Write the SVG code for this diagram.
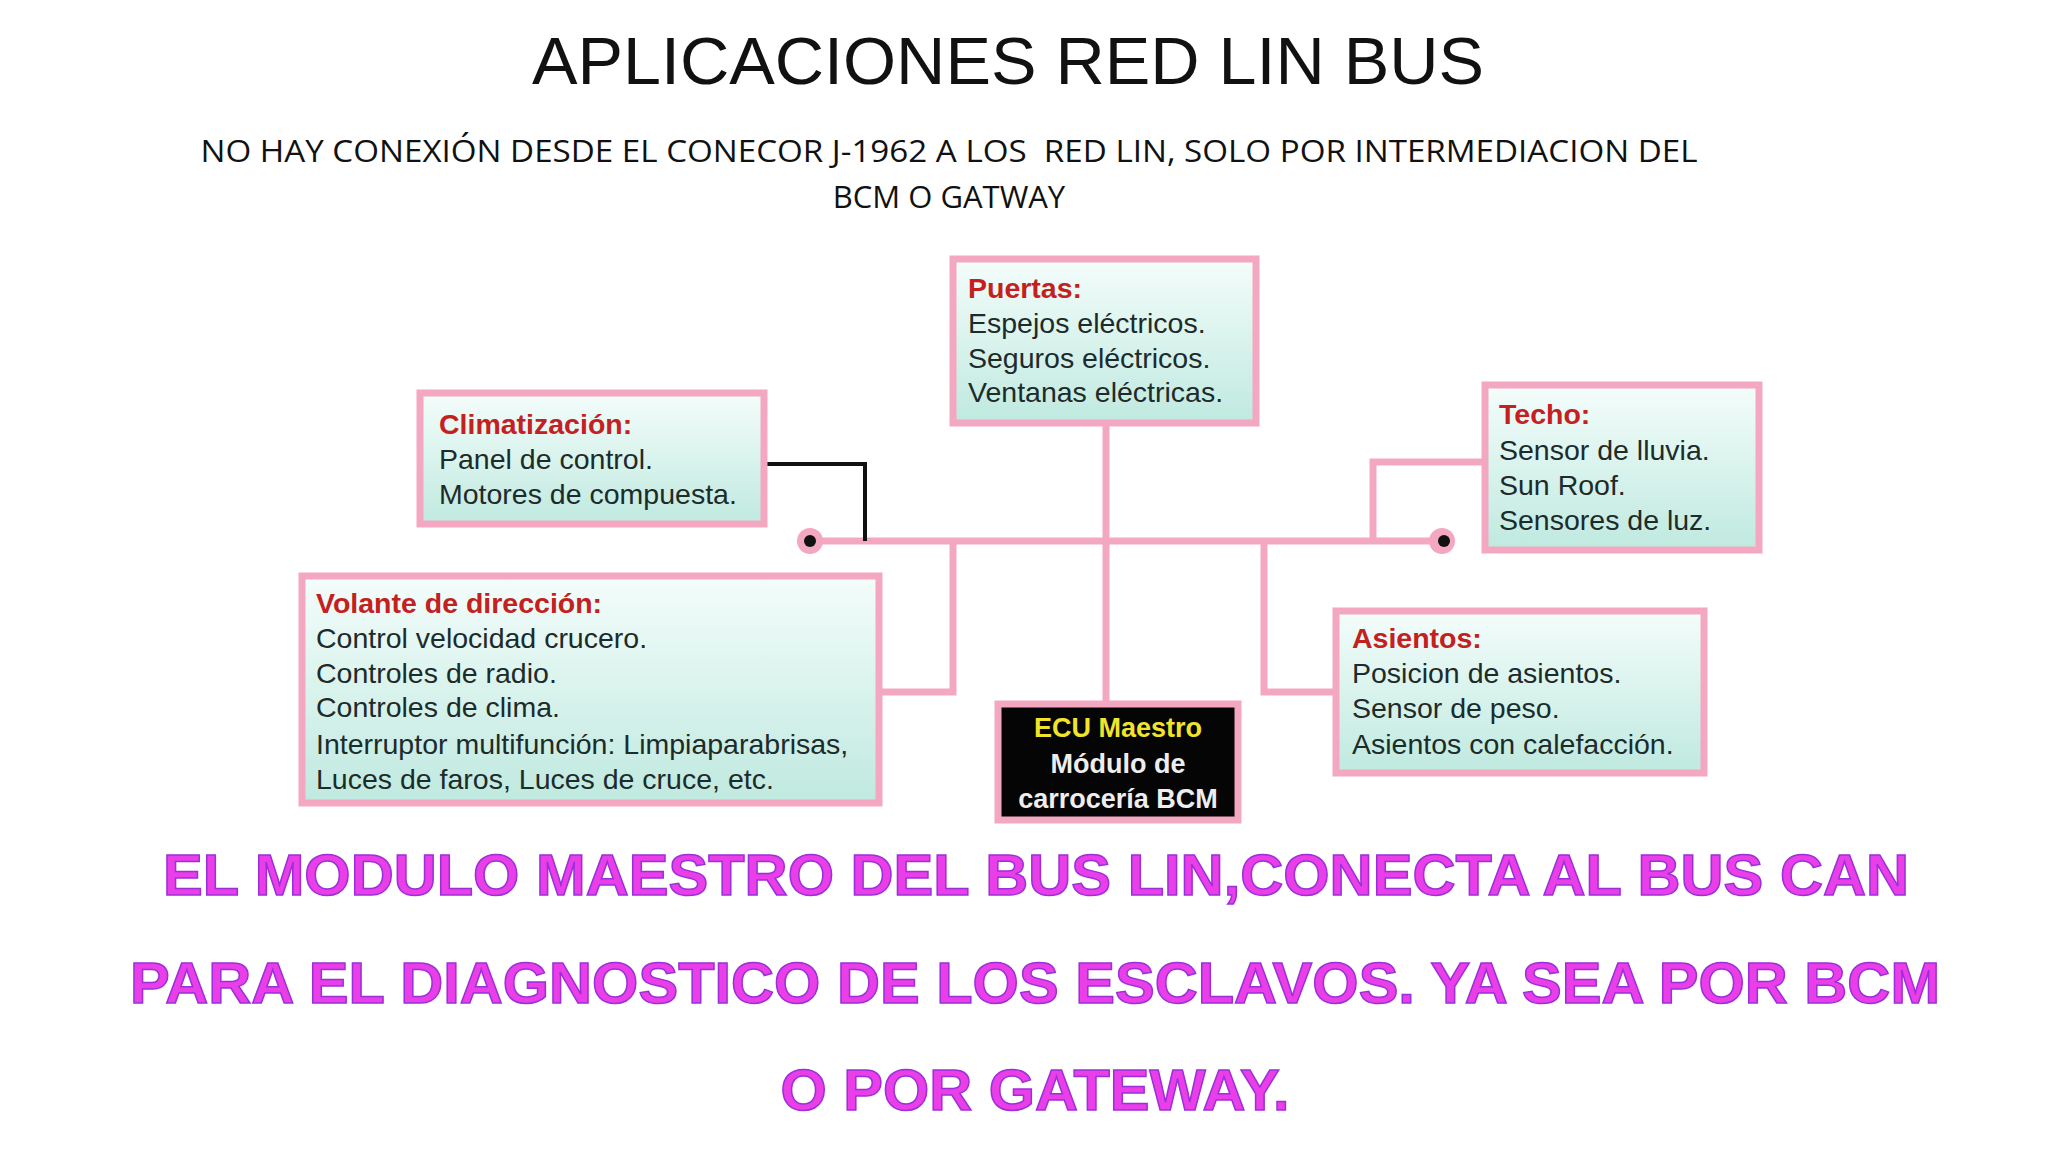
<svg xmlns="http://www.w3.org/2000/svg" width="2048" height="1152" viewBox="0 0 2048 1152">
<defs>
<linearGradient id="g" x1="0" y1="0" x2="0" y2="1"><stop offset="0" stop-color="#f4fdfb"/><stop offset="1" stop-color="#bfe9df"/></linearGradient>
<style>
.box{fill:url(#g);stroke:#f4a7c1;stroke-width:7}
.h{font-family:"Liberation Sans",Arial,sans-serif;font-size:28.5px;font-weight:bold;fill:#c42020}
.t{font-family:"Liberation Sans",Arial,sans-serif;font-size:28.5px;fill:#1d2b2b}
.w{stroke:#f4a7c1;stroke-width:7;fill:none}
.big{font-family:"Liberation Sans",Arial,sans-serif;font-size:58px;font-weight:bold;fill:#ea3ee8;stroke:#9b30d9;stroke-width:1.5;text-anchor:middle}
</style>
</defs>
<rect width="2048" height="1152" fill="#fff"/>
<text x="1008" y="84" font-family="Liberation Sans,Arial,sans-serif" font-size="66" text-anchor="middle" fill="#111" textLength="952" lengthAdjust="spacingAndGlyphs">APLICACIONES RED LIN BUS</text>
<g font-family="Open Sans,Liberation Sans,sans-serif" font-size="31" fill="#111" text-anchor="middle">
<text x="949" y="162" textLength="1497" lengthAdjust="spacingAndGlyphs" xml:space="preserve">NO HAY CONEXIÓN DESDE EL CONECOR J-1962 A LOS  RED LIN, SOLO POR INTERMEDIACION DEL</text>
<text x="949" y="208">BCM O GATWAY</text>
</g>
<g id="connectors">
<line class="w" x1="810" y1="541" x2="1442" y2="541"/>
<polyline points="764,464 865,464 865,541" fill="none" stroke="#111" stroke-width="4"/>
<line class="w" x1="1106" y1="423" x2="1106" y2="701"/>
<polyline class="w" points="879,692 953,692 953,541"/>
<polyline class="w" points="1336,692 1264,692 1264,541"/>
<polyline class="w" points="1485,462 1373,462 1373,541"/>
<circle cx="810" cy="541" r="13" fill="#f4a7c1"/><circle cx="810" cy="541" r="6" fill="#111"/>
<circle cx="1442" cy="541" r="13" fill="#f4a7c1"/><circle cx="1444" cy="541" r="6" fill="#111"/>
</g>
<g id="puertas"><rect class="box" x="953" y="259" width="303" height="164"/>
<text class="h" x="968" y="298">Puertas:</text><text class="t" x="968" y="333">Espejos eléctricos.</text><text class="t" x="968" y="368">Seguros eléctricos.</text><text class="t" x="968" y="402">Ventanas eléctricas.</text></g>
<g id="clima"><rect class="box" x="420" y="393" width="344" height="131"/>
<text class="h" x="439" y="434">Climatización:</text><text class="t" x="439" y="469">Panel de control.</text><text class="t" x="439" y="504">Motores de compuesta.</text></g>
<g id="techo"><rect class="box" x="1485" y="385" width="274" height="165"/>
<text class="h" x="1499" y="424">Techo:</text><text class="t" x="1499" y="460">Sensor de lluvia.</text><text class="t" x="1499" y="495">Sun Roof.</text><text class="t" x="1499" y="530">Sensores de luz.</text></g>
<g id="volante"><rect class="box" x="302" y="576" width="577" height="227"/>
<text class="h" x="316" y="613">Volante de dirección:</text><text class="t" x="316" y="648">Control velocidad crucero.</text><text class="t" x="316" y="683">Controles de radio.</text><text class="t" x="316" y="717">Controles de clima.</text><text class="t" x="316" y="754">Interruptor multifunción: Limpiaparabrisas,</text><text class="t" x="316" y="789">Luces de faros, Luces de cruce, etc.</text></g>
<g id="asientos"><rect class="box" x="1336" y="611" width="368" height="162"/>
<text class="h" x="1352" y="648">Asientos:</text><text class="t" x="1352" y="683">Posicion de asientos.</text><text class="t" x="1352" y="718">Sensor de peso.</text><text class="t" x="1352" y="754">Asientos con calefacción.</text></g>
<g id="ecu"><rect x="998" y="704" width="240" height="116" fill="#050505" stroke="#f4a7c1" stroke-width="7"/>
<g font-family="Liberation Sans,Arial,sans-serif" font-size="27" font-weight="bold" text-anchor="middle"><text x="1118" y="737" fill="#f2e42a">ECU Maestro</text><text x="1118" y="773" fill="#eee">Módulo de</text><text x="1118" y="808" fill="#eee">carrocería BCM</text></g></g>
<text class="big" x="1036" y="895" textLength="1746" lengthAdjust="spacingAndGlyphs">EL MODULO MAESTRO DEL BUS LIN,CONECTA AL BUS CAN</text>
<text class="big" x="1035" y="1003" textLength="1810" lengthAdjust="spacingAndGlyphs">PARA EL DIAGNOSTICO DE LOS ESCLAVOS. YA SEA POR BCM</text>
<text class="big" x="1035" y="1110" textLength="509" lengthAdjust="spacingAndGlyphs">O POR GATEWAY.</text>
</svg>
